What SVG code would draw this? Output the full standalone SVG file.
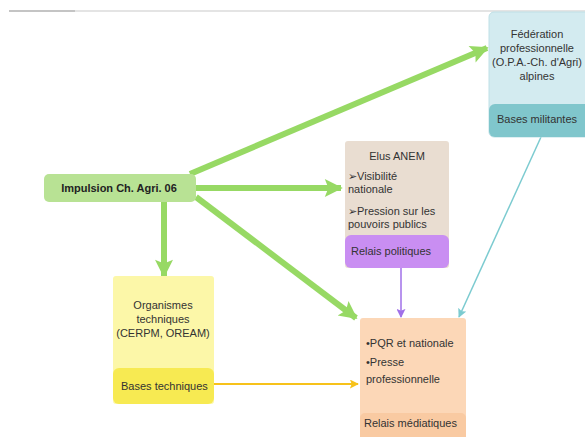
<svg xmlns="http://www.w3.org/2000/svg" width="585" height="437" viewBox="0 0 585 437">
<style>
text{font-family:"Liberation Sans",Arial,sans-serif;font-size:11px;fill:#333}
.c{text-anchor:middle}
.b{font-weight:bold;fill:#222}
.g{stroke:#97d964;stroke-width:6;fill:none}
</style>
<defs>
<marker id="ga" viewBox="0 0 10 10" refX="9" refY="5" markerWidth="4" markerHeight="3" orient="auto" markerUnits="strokeWidth">
<path d="M0,0 L10,5 L0,10 L2,5 Z" fill="#97d964"/>
</marker>
<marker id="pa" viewBox="0 0 10 10" refX="9" refY="5" markerWidth="9" markerHeight="9" orient="auto" markerUnits="userSpaceOnUse">
<path d="M0,0 L10,5 L0,10 L2,5 Z" fill="#a070e8"/>
</marker>
<marker id="ta" viewBox="0 0 10 10" refX="9" refY="5" markerWidth="9" markerHeight="9" orient="auto" markerUnits="userSpaceOnUse">
<path d="M0,0 L10,5 L0,10 L2,5 Z" fill="#7ccbd0"/>
</marker>
<marker id="ya" viewBox="0 0 10 10" refX="9" refY="5" markerWidth="9" markerHeight="9" orient="auto" markerUnits="userSpaceOnUse">
<path d="M0,0 L10,5 L0,10 L2,5 Z" fill="#f7c21a"/>
</marker>
</defs>
<rect width="585" height="437" fill="#fff"/>
<line x1="9" y1="11" x2="585" y2="11" stroke="#e4e4e4" stroke-width="2"/>
<line x1="9" y1="11" x2="75" y2="11" stroke="#c4c4c4" stroke-width="2"/>

<g id="connectors">
<line class="g" x1="190" y1="174" x2="487" y2="48" marker-end="url(#ga)"/>
<line class="g" x1="196" y1="188" x2="341" y2="188" marker-end="url(#ga)"/>
<line class="g" x1="196" y1="197" x2="356" y2="318" marker-end="url(#ga)"/>
<line class="g" x1="164" y1="202" x2="164" y2="276" marker-end="url(#ga)"/>
<line x1="401" y1="268" x2="401" y2="317" stroke="#a070e8" stroke-width="1.5" marker-end="url(#pa)"/>
<line x1="541" y1="137" x2="459" y2="317" stroke="#7ccbd0" stroke-width="1.5" marker-end="url(#ta)"/>
<line x1="214" y1="384" x2="358" y2="384" stroke="#f7c21a" stroke-width="2" marker-end="url(#ya)"/>
</g>

<g id="federation">
<rect x="489" y="12" width="110" height="125" rx="5" fill="#d3ebf0" stroke="#bfe0e6"/>
<rect x="489" y="104" width="110" height="33" rx="6" fill="#80c6cc"/>
<text class="c" x="537" y="38">Fédération</text>
<text class="c" x="537" y="52">professionnelle</text>
<text class="c" x="537" y="66">(O.P.A.-Ch. d'Agri)</text>
<text class="c" x="537" y="80">alpines</text>
<text class="c" x="537" y="123">Bases militantes</text>
</g>

<g id="elus">
<rect x="345" y="141" width="104" height="127" rx="3" fill="#e9ddd1"/>
<rect x="345" y="235" width="104" height="33" rx="6" fill="#c98ef2"/>
<text class="c" x="397" y="160">Elus ANEM</text>
<text x="348" y="180">➢Visibilité</text>
<text x="348" y="193">nationale</text>
<text x="348" y="215">➢Pression sur les</text>
<text x="348" y="228">pouvoirs publics</text>
<text x="351" y="255">Relais politiques</text>
</g>

<g id="impulsion">
<rect x="44" y="174" width="152" height="28" rx="5" fill="#b8e294"/>
<text class="c b" x="119" y="192">Impulsion Ch. Agri. 06</text>
</g>

<g id="organismes">
<rect x="113" y="276" width="101" height="128" rx="3" fill="#fcf7a8"/>
<rect x="113" y="368" width="101" height="36" rx="6" fill="#f7ea52"/>
<text class="c" x="163" y="309">Organismes</text>
<text class="c" x="163" y="323">techniques</text>
<text class="c" x="163" y="337">(CERPM, OREAM)</text>
<text x="121" y="390">Bases techniques</text>
</g>

<g id="medias">
<rect x="360" y="318" width="106" height="125" rx="3" fill="#fcd7b7"/>
<rect x="360" y="413" width="106" height="30" rx="5" fill="#f9caa2"/>
<text x="366" y="347">•PQR et nationale</text>
<text x="366" y="366">•Presse</text>
<text x="366" y="383">professionnelle</text>
<text x="364" y="427">Relais médiatiques</text>
</g>
</svg>
